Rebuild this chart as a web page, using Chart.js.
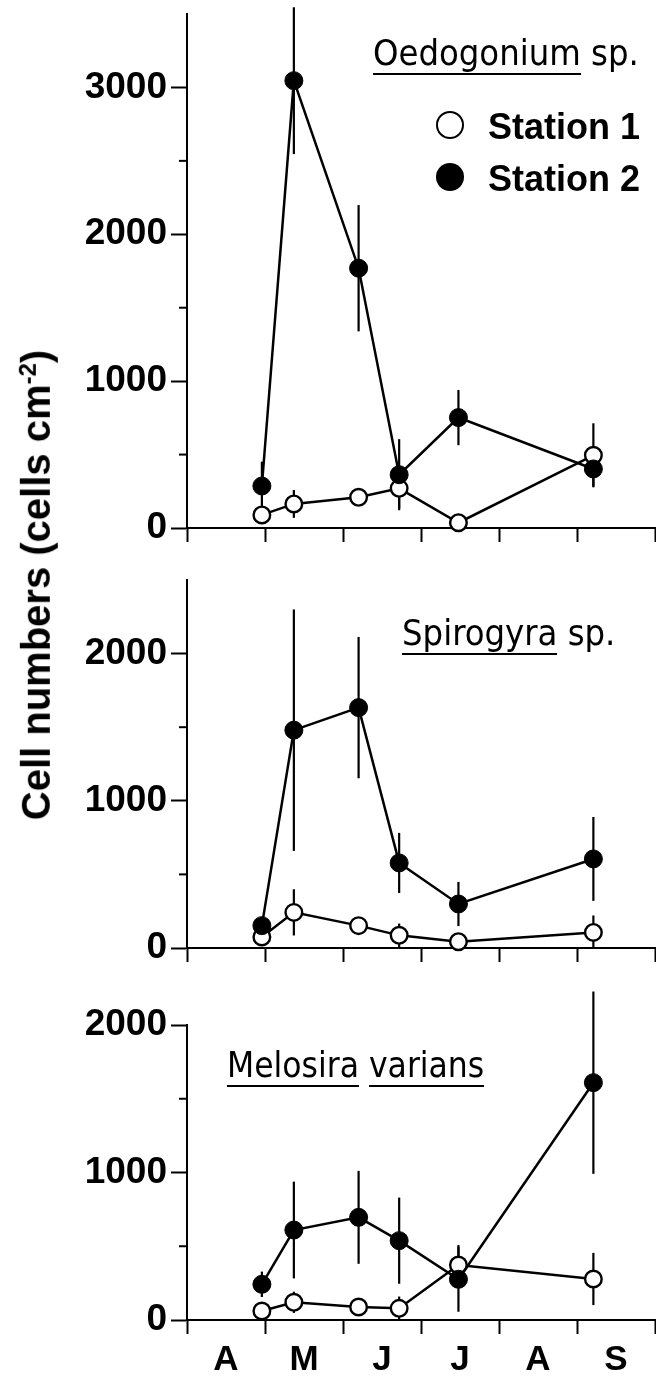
<!DOCTYPE html>
<html>
<head>
<meta charset="utf-8">
<script src="https://cdn.jsdelivr.net/npm/chart.js@4.4.0/dist/chart.umd.min.js"></script>
<style>
  html, body { margin: 0; padding: 0; background: #fff; }
  body { width: 656px; height: 1376px; position: relative; overflow: hidden;
         font-family: "Liberation Sans", Arial, sans-serif; color: #000; }
  canvas { position: absolute; left: 0; }
  .lbl { position: absolute; white-space: nowrap; line-height: 1; z-index: 2; }
  .sp { font-family: "DejaVu Sans Condensed", "Liberation Sans", Arial, sans-serif; }
  .u { border-bottom: 2px solid #000; }
  .dot { position: absolute; width: 28px; height: 28px; border-radius: 50%;
         box-sizing: border-box; z-index: 2; }
</style>
</head>
<body>
<canvas id="oedo"></canvas>
<canvas id="spiro"></canvas>
<canvas id="melo"></canvas>

<div class="lbl sp" style="left:373px; top:34.5px; font-size:36px;"><span class="u">Oedogonium</span> sp.</div>
<div class="dot" style="left:436px; top:111px; border:2.5px solid #000; background:#fff;"></div>
<div class="dot" style="left:436px; top:163px; background:#000;"></div>
<div class="lbl" style="left:488px; top:109px; font-size:36px; font-weight:bold;">Station 1</div>
<div class="lbl" style="left:488px; top:160.5px; font-size:36px; font-weight:bold;">Station 2</div>
<div class="lbl sp" style="left:402px; top:614.5px; font-size:36px;"><span class="u">Spirogyra</span> sp.</div>
<div class="lbl sp" style="left:227px; top:1048.4px; font-size:35px;"><span class="u">Melosira</span> <span class="u">varians</span></div>
<div class="lbl" style="left:36px; top:585px; font-size:40px; font-weight:bold; transform:translate(-50%,-50%) rotate(-90deg);">Cell numbers (cells cm<sup style="font-size:24px;">-2</sup>)</div>

<script>
// sampling dates, in months after 1 April
const sampleMonths = [0.96, 1.37, 2.2, 2.72, 3.48, 5.21];
const monthTicks = [0, 1, 2, 3, 4, 5, 6];
const monthLabelPos = [0.5, 1.5, 2.5, 3.5, 4.5, 5.5];
const monthLabels = ["A", "M", "J", "J", "A", "S"];

// Oedogonium sp.
const oedoSt1 = [89, 164, 209, 270, 36, 495];
const oedoSt1Err = [25, 95, 25, 136, 60, 218];
const oedoSt2 = [286, 3046, 1769, 363, 752, 402];
const oedoSt2Err = [166, 500, 430, 242, 188, 120];
const oedoMajor = [0, 1000, 2000, 3000];
const oedoMinor = [500, 1500, 2500];

// Spirogyra sp.
const spiroSt1 = [75, 242, 152, 86, 43, 106];
const spiroSt1Err = [25, 157, 25, 80, 40, 115];
const spiroSt2 = [152, 1480, 1633, 578, 299, 605];
const spiroSt2Err = [50, 820, 480, 204, 150, 285];
const spiroMajor = [0, 1000, 2000];
const spiroMinor = [500, 1500];

// Melosira varians
const meloSt1 = [61, 120, 88, 79, 373, 278];
const meloSt1Err = [25, 72, 25, 80, 135, 177];
const meloSt2 = [242, 610, 696, 538, 276, 1609];
const meloSt2Err = [86, 328, 315, 292, 220, 618];
const meloMajor = [0, 1000, 2000];
const meloMinor = [500, 1500];

Chart.defaults.font.family = "'Liberation Sans', Arial, sans-serif";
Chart.defaults.color = "#000";

const toPoints = (vals) => sampleMonths.map((m, i) => ({ x: m, y: vals[i] }));

// vertical error bars, drawn under the markers
const errorBars = {
  id: "errorBars",
  beforeDatasetsDraw(chart) {
    const { ctx, scales } = chart;
    ctx.save();
    ctx.strokeStyle = "#000";
    ctx.lineWidth = 2.2;
    chart.data.datasets.forEach((ds) => {
      ds.data.forEach((p, i) => {
        const e = ds.errors[i];
        const px = scales.x.getPixelForValue(p.x);
        ctx.beginPath();
        ctx.moveTo(px, scales.y.getPixelForValue(Math.max(0, p.y - e)));
        ctx.lineTo(px, scales.y.getPixelForValue(p.y + e));
        ctx.stroke();
      });
    });
    ctx.restore();
  },
};

function makePanel(id, top, height, pad, st1, st1Err, st2, st2Err, yMax, major, minor, showMonths) {
  const canvas = document.getElementById(id);
  canvas.width = 656;
  canvas.height = height;
  canvas.style.top = top + "px";

  // short ticks at the half-thousands
  const minorTicks = {
    id: "minorTicks",
    afterDraw(chart) {
      const { ctx, chartArea, scales } = chart;
      ctx.save();
      ctx.strokeStyle = "#000";
      ctx.lineWidth = 2;
      minor.forEach((v) => {
        const py = scales.y.getPixelForValue(v);
        ctx.beginPath();
        ctx.moveTo(chartArea.left - 8, py);
        ctx.lineTo(chartArea.left, py);
        ctx.stroke();
      });
      ctx.restore();
    },
  };

  const scales = {
    x: {
      type: "linear",
      min: 0,
      max: 6,
      weight: 0,
      afterBuildTicks: (s) => { s.ticks = monthTicks.map((v) => ({ value: v })); },
      afterFit: (s) => { s.height = 14; s.paddingLeft = 0; s.paddingRight = 0; },
      ticks: { display: false },
      grid: { drawOnChartArea: false, tickLength: 14, tickWidth: 2, tickColor: "#000" },
      border: { color: "#000", width: 2 },
    },
    y: {
      min: 0,
      max: yMax,
      afterBuildTicks: (s) => { s.ticks = major.map((v) => ({ value: v })); },
      afterFit: (s) => { s.width = 187; s.paddingTop = 0; s.paddingBottom = 0; },
      ticks: {
        color: "#000",
        padding: 4,
        font: { size: 37, weight: "bold" },
        callback: (v) => String(v),
      },
      grid: { drawOnChartArea: false, tickLength: 16, tickWidth: 2, tickColor: "#000" },
      border: { color: "#000", width: 2 },
    },
  };

  if (showMonths) {
    scales.x2 = {
      type: "linear",
      position: "bottom",
      min: 0,
      max: 6,
      weight: 1,
      afterBuildTicks: (s) => { s.ticks = monthLabelPos.map((v) => ({ value: v })); },
      afterFit: (s) => { s.height = 42; s.paddingLeft = 0; s.paddingRight = 0; },
      ticks: {
        color: "#000",
        padding: 5,
        autoSkip: false,
        maxRotation: 0,
        font: { size: 35, weight: "bold" },
        callback: (v, i) => monthLabels[i],
      },
      grid: { display: false, drawTicks: false },
      border: { display: false },
    };
  }

  return new Chart(canvas.getContext("2d"), {
    type: "line",
    data: {
      datasets: [
        {
          label: "Station 2",
          data: toPoints(st2),
          errors: st2Err,
          borderColor: "#000",
          borderWidth: 2.5,
          pointRadius: 9,
          pointBorderWidth: 1,
          pointBackgroundColor: "#000",
          pointBorderColor: "#000",
          clip: false,
        },
        {
          label: "Station 1",
          data: toPoints(st1),
          errors: st1Err,
          borderColor: "#000",
          borderWidth: 2.5,
          pointRadius: 8.3,
          pointBorderWidth: 2.4,
          pointBackgroundColor: "#fff",
          pointBorderColor: "#000",
          clip: false,
        },
      ],
    },
    options: {
      responsive: false,
      animation: false,
      devicePixelRatio: 1,
      events: [],
      layout: { autoPadding: false, padding: pad },
      scales: scales,
      plugins: { legend: { display: false }, tooltip: { enabled: false } },
    },
    plugins: [errorBars, minorTicks],
  });
}

makePanel("oedo", 0, 560, { top: 14, right: 1, bottom: 18, left: 0 },
  oedoSt1, oedoSt1Err, oedoSt2, oedoSt2Err, 3500, oedoMajor, oedoMinor, false);
makePanel("spiro", 560, 410, { top: 20, right: 1, bottom: 8, left: 0 },
  spiroSt1, spiroSt1Err, spiroSt2, spiroSt2Err, 2500, spiroMajor, spiroMinor, false);
makePanel("melo", 975, 401, { top: 50, right: 1, bottom: 0, left: 0 },
  meloSt1, meloSt1Err, meloSt2, meloSt2Err, 2000, meloMajor, meloMinor, true);
</script>
</body>
</html>
